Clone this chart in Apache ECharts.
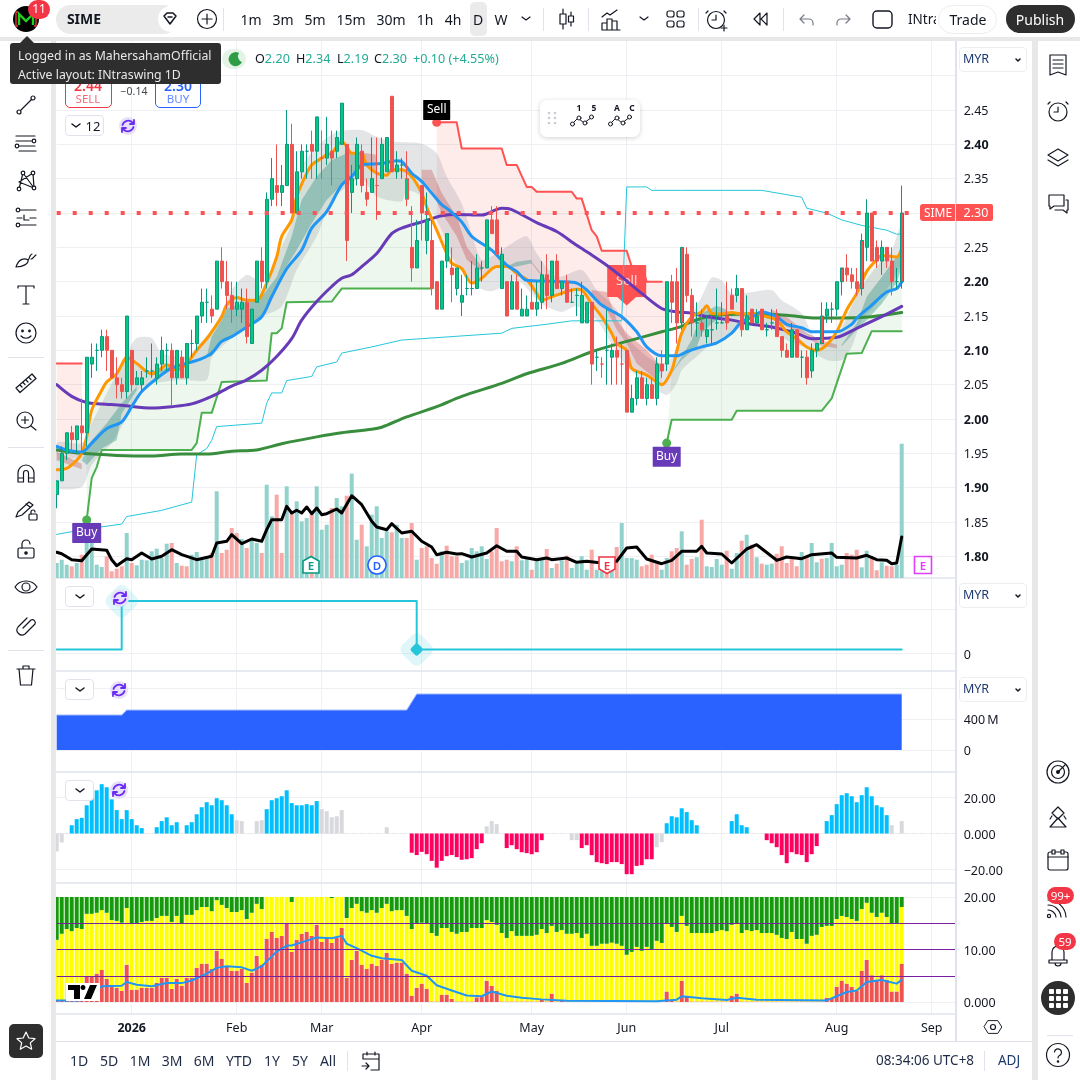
<!DOCTYPE html>
<html><head><meta charset="utf-8">
<script src="https://cdn.jsdelivr.net/npm/echarts@6/dist/echarts.min.js"></script>
<style>
html,body{margin:0;padding:0;background:#fff;width:1080px;height:1080px;overflow:hidden;font-family:"Noto Sans",Roboto,sans-serif;color:#131722}
#c{position:absolute;left:0;top:0;width:1080px;height:1080px}
#ui{position:absolute;left:0;top:0;width:1080px;height:1080px;pointer-events:none}
.a{position:absolute;white-space:nowrap}
.t{position:absolute;white-space:nowrap;transform:translate(-50%,-50%);font-size:14px;line-height:1}
svg{position:absolute;overflow:visible}
</style></head><body><div id="c"></div><div id="ui"></div>
<script>
// ---------- candles (index 0..169) ----------
const opens=[1.89,1.91,1.95,1.98,1.97,1.99,1.98,2.08,2.10,2.10,2.12,2.10,2.06,2.05,2.04,2.10,2.05,2.05,2.07,2.07,2.06,2.08,2.10,2.10,2.06,2.09,2.06,2.11,2.11,2.15,2.17,2.16,2.16,2.23,2.20,2.18,2.16,2.16,2.17,2.11,2.17,2.23,2.20,2.32,2.34,2.33,2.34,2.40,2.30,2.36,2.39,2.40,2.39,2.38,2.38,2.39,2.39,2.40,2.40,2.33,2.35,2.39,2.33,2.33,2.34,2.35,2.36,2.47,2.36,2.37,2.35,2.25,2.22,2.34,2.26,2.26,2.20,2.16,2.23,2.22,2.19,2.17,2.19,2.19,2.19,2.22,2.22,2.29,2.29,2.19,2.20,2.16,2.20,2.15,2.15,2.17,2.16,2.17,2.21,2.18,2.23,2.19,2.20,2.17,2.18,2.14,2.14,2.17,2.09,2.08,2.10,2.09,2.10,2.08,2.10,2.01,2.03,2.06,2.03,2.05,2.03,2.08,2.08,2.20,2.20,2.14,2.24,2.18,2.14,2.14,2.12,2.13,2.14,2.14,2.15,2.18,2.18,2.19,2.13,2.16,2.14,2.16,2.13,2.14,2.15,2.12,2.10,2.09,2.13,2.09,2.09,2.07,2.10,2.11,2.15,2.16,2.16,2.20,2.22,2.21,2.20,2.19,2.25,2.30,2.25,2.23,2.25,2.23,2.20,2.20];
const closes=[1.91,1.95,1.98,1.97,1.99,1.98,2.09,2.09,2.10,2.12,2.10,2.06,2.05,2.04,2.15,2.05,2.06,2.06,2.07,2.07,2.08,2.10,2.10,2.06,2.10,2.06,2.11,2.11,2.15,2.17,2.17,2.15,2.23,2.20,2.18,2.16,2.17,2.17,2.12,2.16,2.23,2.20,2.32,2.35,2.33,2.34,2.40,2.30,2.36,2.39,2.39,2.39,2.44,2.38,2.40,2.38,2.41,2.46,2.26,2.35,2.40,2.34,2.32,2.35,2.34,2.40,2.41,2.36,2.37,2.37,2.32,2.22,2.26,2.30,2.29,2.19,2.16,2.23,2.27,2.21,2.22,2.18,2.19,2.19,2.22,2.22,2.29,2.27,2.24,2.24,2.15,2.20,2.16,2.16,2.16,2.16,2.17,2.21,2.18,2.23,2.19,2.20,2.17,2.17,2.18,2.18,2.17,2.08,2.09,2.08,2.10,2.10,2.09,2.08,2.01,2.03,2.06,2.03,2.05,2.03,2.08,2.07,2.20,2.17,2.14,2.25,2.18,2.14,2.14,2.13,2.13,2.13,2.14,2.14,2.14,2.16,2.19,2.13,2.15,2.14,2.15,2.13,2.13,2.14,2.12,2.10,2.09,2.13,2.09,2.09,2.06,2.10,2.11,2.15,2.16,2.16,2.20,2.22,2.21,2.20,2.19,2.26,2.30,2.23,2.23,2.25,2.23,2.20,2.20,2.30];
const lows=[1.87,1.91,1.94,1.95,1.95,1.95,1.96,2.06,2.07,2.09,2.07,2.06,2.03,2.03,2.03,2.04,2.05,2.04,2.06,2.06,2.05,2.07,2.07,2.02,2.05,2.06,2.05,2.09,2.10,2.14,2.14,2.14,2.16,2.19,2.16,2.14,2.15,2.14,2.11,2.11,2.17,2.19,2.19,2.31,2.31,2.31,2.34,2.30,2.30,2.35,2.35,2.35,2.35,2.35,2.37,2.34,2.38,2.40,2.23,2.30,2.34,2.33,2.31,2.33,2.29,2.35,2.36,2.36,2.35,2.35,2.31,2.20,2.22,2.26,2.24,2.18,2.16,2.16,2.22,2.17,2.18,2.15,2.18,2.18,2.19,2.20,2.22,2.27,2.24,2.19,2.15,2.16,2.16,2.15,2.15,2.16,2.15,2.16,2.16,2.17,2.19,2.18,2.17,2.17,2.15,2.14,2.14,2.05,2.07,2.06,2.05,2.05,2.05,2.05,2.01,2.01,2.02,2.03,2.02,2.03,2.02,2.06,2.07,2.14,2.11,2.13,2.17,2.12,2.12,2.12,2.11,2.11,2.13,2.14,2.13,2.16,2.17,2.12,2.13,2.14,2.14,2.13,2.12,2.13,2.12,2.09,2.09,2.09,2.09,2.06,2.05,2.06,2.09,2.11,2.14,2.14,2.15,2.18,2.20,2.19,2.18,2.18,2.23,2.23,2.22,2.21,2.22,2.18,2.19,2.19];
const highs=[1.91,1.96,1.98,1.99,1.99,2.03,2.09,2.11,2.11,2.13,2.13,2.10,2.09,2.06,2.15,2.10,2.07,2.07,2.09,2.11,2.09,2.12,2.11,2.11,2.10,2.10,2.11,2.13,2.15,2.19,2.19,2.18,2.23,2.25,2.23,2.20,2.20,2.19,2.19,2.16,2.23,2.25,2.33,2.38,2.40,2.37,2.45,2.43,2.39,2.40,2.40,2.42,2.44,2.42,2.44,2.42,2.42,2.46,2.40,2.37,2.41,2.40,2.35,2.41,2.41,2.41,2.41,2.47,2.39,2.38,2.39,2.31,2.29,2.34,2.33,2.29,2.20,2.23,2.27,2.25,2.22,2.21,2.21,2.23,2.24,2.23,2.29,2.31,2.31,2.25,2.20,2.21,2.21,2.19,2.18,2.20,2.20,2.23,2.24,2.23,2.24,2.20,2.21,2.19,2.19,2.20,2.17,2.17,2.10,2.09,2.16,2.11,2.12,2.11,2.10,2.05,2.07,2.07,2.06,2.06,2.09,2.10,2.20,2.21,2.22,2.25,2.25,2.19,2.17,2.16,2.15,2.15,2.19,2.17,2.20,2.19,2.21,2.19,2.18,2.16,2.16,2.16,2.14,2.16,2.16,2.12,2.11,2.14,2.13,2.10,2.10,2.11,2.11,2.17,2.17,2.17,2.20,2.22,2.24,2.22,2.22,2.27,2.32,2.30,2.26,2.26,2.25,2.25,2.22,2.34];
const redFillUp=[125,153,157,161,169];
const greenFillDown=[70];
// ---------- moving averages etc: [bar index, price] ----------
const orangeLine=[[0,1.926],[2,1.928],[4,1.94],[5,1.95],[6,1.974],[7,2.013],[9,2.042],[10,2.054],[12,2.066],[13,2.079],[14,2.09],[16,2.081],[18,2.069],[19,2.066],[21,2.074],[22,2.079],[24,2.071],[26,2.081],[28,2.10],[30,2.117],[31,2.127],[33,2.149],[34,2.166],[36,2.177],[38,2.173],[40,2.173],[42,2.198],[44,2.236],[45,2.266],[47,2.29],[48,2.324],[50,2.358],[51,2.37],[53,2.38],[54,2.385],[55,2.387],[57,2.404],[58,2.397],[59,2.387],[61,2.387],[62,2.37],[64,2.358],[66,2.355],[67,2.363],[69,2.363],[71,2.353],[73,2.329],[74,2.309],[76,2.275],[78,2.241],[79,2.227],[81,2.219],[83,2.198],[85,2.205],[88,2.222],[90,2.222],[92,2.212],[94,2.203],[96,2.183],[97,2.173],[99,2.178],[101,2.183],[104,2.189],[105,2.188],[107,2.168],[109,2.149],[111,2.125],[112,2.11],[114,2.10],[115,2.074],[118,2.064],[120,2.054],[121,2.05],[123,2.071],[124,2.098],[125,2.125],[127,2.149],[129,2.156],[130,2.165],[131,2.154],[133,2.153],[135,2.155],[137,2.153],[139,2.154],[142,2.149],[144,2.144],[146,2.127],[148,2.117],[150,2.105],[152,2.10],[154,2.108],[156,2.127],[158,2.159],[160,2.183],[162,2.215],[164,2.232],[165,2.238],[168,2.236],[169,2.249]];
const blueLine=[[0,1.96],[2,1.955],[5,1.952],[7,1.965],[10,1.986],[13,1.996],[15,2.018],[17,2.04],[20,2.059],[23,2.074],[26,2.081],[29,2.088],[31,2.096],[33,2.113],[35,2.12],[38,2.134],[41,2.149],[43,2.178],[46,2.219],[49,2.246],[51,2.278],[54,2.302],[57,2.341],[59,2.353],[61,2.37],[62,2.371],[65,2.372],[68,2.376],[69,2.375],[71,2.358],[73,2.346],[75,2.329],[77,2.312],[78,2.307],[81,2.287],[83,2.266],[87,2.246],[90,2.224],[92,2.215],[94,2.202],[97,2.201],[101,2.20],[104,2.198],[106,2.188],[109,2.166],[113,2.149],[116,2.127],[118,2.105],[121,2.092],[124,2.092],[126,2.098],[129,2.105],[132,2.111],[135,2.125],[137,2.142],[139,2.148],[141,2.156],[144,2.149],[146,2.138],[149,2.133],[151,2.127],[156,2.127],[159,2.138],[160,2.147],[163,2.166],[166,2.185],[168,2.19],[169,2.20]];
const purpleLine=[[0,2.05],[3,2.033],[6,2.024],[9,2.022],[13,2.02],[19,2.016],[23,2.018],[27,2.022],[31,2.033],[35,2.048],[38,2.057],[41,2.071],[44,2.091],[47,2.117],[49,2.144],[52,2.171],[55,2.193],[57,2.205],[59,2.21],[61,2.222],[64,2.241],[67,2.27],[69,2.278],[73,2.287],[77,2.296],[80,2.298],[85,2.297],[89,2.307],[91,2.305],[96,2.286],[100,2.273],[104,2.253],[107,2.239],[110,2.224],[113,2.207],[117,2.183],[121,2.161],[124,2.156],[127,2.154],[130,2.149],[135,2.144],[139,2.138],[143,2.134],[148,2.125],[151,2.117],[156,2.119],[160,2.132],[165,2.149],[169,2.164]];
const darkGreenLine=[[0,1.955],[5,1.95],[12,1.947],[19,1.946],[25,1.949],[30,1.949],[35,1.953],[40,1.955],[45,1.964],[52,1.974],[57,1.98],[63,1.985],[65,1.988],[70,2.003],[76,2.018],[81,2.033],[89,2.052],[94,2.066],[101,2.081],[107,2.098],[114,2.113],[121,2.127],[125,2.135],[126,2.139],[130,2.149],[133,2.152],[140,2.153],[146,2.151],[152,2.147],[157,2.147],[163,2.149],[169,2.155]];
const cyanLine=[[0,1.832],[7,1.841],[13,1.847],[14,1.858],[21,1.867],[27,1.879],[28,1.948],[30,1.957],[31,1.969],[32,1.989],[41,1.994],[42,2.023],[43,2.038],[45,2.038],[46,2.056],[51,2.062],[52,2.076],[56,2.083],[57,2.096],[63,2.105],[69,2.115],[73,2.117],[89,2.125],[91,2.132],[98,2.138],[103,2.143],[113,2.143],[114,2.338],[118,2.338],[119,2.333],[125,2.333],[141,2.333],[149,2.323],[150,2.307],[154,2.30],[157,2.29],[161,2.282],[166,2.275],[168,2.269],[169,2.27]];
const stopLongA=[[6,1.853],[7,1.914],[8,1.93],[9,1.955],[27,1.955],[28,1.965],[29,2.009],[31,2.009],[33,2.054],[42,2.056],[43,2.125],[44,2.125],[45,2.132],[46,2.17],[55,2.171],[57,2.19],[75,2.19]];
const stopLongB=[[122,1.965],[123,1.999],[135,1.999],[136,2.012],[153,2.012],[155,2.03],[156,2.052],[158,2.095],[161,2.096],[163,2.128],[169,2.128]];
const stopShortA=[[0,2.081],[5,2.081]];
const stopShortB=[[76,2.432],[80,2.432],[81,2.394],[89,2.394],[90,2.37],[92,2.37],[94,2.338],[95,2.338],[96,2.331],[103,2.331],[104,2.321],[105,2.321],[107,2.275],[108,2.266],[109,2.245],[114,2.245],[115,2.222],[117,2.222],[118,2.20],[121,2.20]];
// ---------- shaded bands: upper / lower edges ----------
const cloudTop=[[0,1.965],[5,1.965],[7,1.994],[10,2.037],[12,2.067],[14,2.096],[16,2.118],[19,2.118],[21,2.096],[26,2.091],[28,2.105],[31,2.13],[33,2.154],[35,2.188],[38,2.21],[40,2.202],[41,2.188],[44,2.236],[47,2.285],[49,2.367],[52,2.397],[56,2.418],[61,2.421],[64,2.411],[67,2.404],[73,2.401],[76,2.387],[78,2.353],[81,2.314],[83,2.27],[85,2.232],[88,2.241],[90,2.251],[94,2.266],[96,2.241],[100,2.207],[105,2.217],[108,2.188],[112,2.159],[114,2.12],[118,2.091],[121,2.081],[123,2.09],[125,2.125],[129,2.178],[131,2.206],[133,2.202],[135,2.183],[139,2.185],[143,2.188],[145,2.173],[149,2.154],[151,2.125],[153,2.11],[156,2.12],[159,2.164],[161,2.193],[164,2.222],[167,2.246],[169,2.285]];
const cloudBottom=[[0,1.901],[5,1.901],[7,1.933],[11,1.965],[13,1.989],[15,2.018],[17,2.047],[21,2.054],[25,2.057],[30,2.057],[31,2.091],[33,2.105],[37,2.13],[41,2.149],[45,2.164],[48,2.217],[52,2.266],[55,2.319],[58,2.338],[61,2.35],[64,2.324],[69,2.317],[70,2.333],[73,2.324],[77,2.275],[79,2.236],[84,2.193],[87,2.186],[92,2.202],[97,2.168],[101,2.156],[104,2.164],[108,2.144],[111,2.11],[114,2.076],[118,2.052],[122,2.035],[124,2.052],[125,2.071],[128,2.091],[131,2.11],[134,2.122],[138,2.137],[143,2.132],[146,2.115],[150,2.103],[154,2.086],[157,2.086],[159,2.105],[161,2.144],[164,2.168],[169,2.227]];
const tealBands=[
 [[[5,1.94],[7,1.969],[10,1.994],[13,2.023],[16,2.047]],[[6,1.933],[9,1.957],[12,1.969],[13,2.008],[16,2.042]]],
 [[[19,2.064],[22,2.075],[26,2.083]],[[19,2.063],[22,2.069],[26,2.08]]],
 [[[30,2.091],[31,2.12],[33,2.144],[34,2.161],[37,2.168],[41,2.178],[44,2.207],[47,2.266],[49,2.319],[52,2.353],[55,2.377],[58,2.387],[61,2.387]],[[31,2.091],[33,2.113],[37,2.132],[41,2.149],[43,2.178],[45,2.212],[48,2.246],[51,2.285],[54,2.319],[57,2.341],[59,2.353],[61,2.37]]],
 [[[90,2.222],[92,2.229],[95,2.232]],[[90,2.22],[92,2.222],[95,2.227]]],
 [[[123,2.067],[125,2.091],[127,2.115],[129,2.154],[132,2.165],[134,2.159]],[[123,2.067],[125,2.086],[128,2.105],[129,2.125],[131,2.139],[134,2.154]]],
 [[[157,2.108],[160,2.139],[162,2.178],[165,2.207],[167,2.227],[169,2.246]],[[157,2.106],[160,2.13],[162,2.144],[165,2.168],[168,2.198],[169,2.222]]]
];
const redBands=[
 [[[0,1.952],[5,1.935]],[[0,1.94],[5,1.927]]],
 [[[61,2.388],[64,2.385]],[[61,2.37],[64,2.36]]],
 [[[73,2.363],[75,2.363],[77,2.329],[80,2.295],[82,2.251],[85,2.222]],[[73,2.35],[75,2.333],[77,2.30],[80,2.266],[82,2.232],[85,2.215]]],
 [[[95,2.229],[98,2.202]],[[95,2.227],[98,2.198]]],
 [[[107,2.188],[110,2.185],[112,2.144],[114,2.125],[118,2.10],[121,2.076]],[[107,2.178],[110,2.159],[112,2.13],[114,2.11],[116,2.081],[120,2.057]]],
 [[[143,2.159],[146,2.149],[150,2.125],[153,2.115],[156,2.108]],[[143,2.149],[146,2.134],[150,2.122],[152,2.108],[156,2.103]]]
];
const sellFillLeftBottom=[[0,1.94],[5,1.945]];
// ---------- volume ----------
const volumes=[15,18.3,13.3,11.7,15,23.3,41.7,50,13.3,11,21.7,6.7,9.3,11.7,45,15,12.7,18.3,17.7,26.7,29.3,20,34.3,35,15,12.3,11.7,23.3,26,20,20,25,86.7,25,28.3,50,45,39,30,38.3,35,25,93.3,61.7,83.3,25,91.7,65,76.7,56.7,60,65,91.7,48.3,53.3,70,80,71.7,82.3,104.3,38.3,53.3,31.7,63.3,71.7,40,46.7,45.7,53.3,40,40,55,18.3,30,31.7,20,14.3,26.7,32.3,21.7,21.7,15,17.7,30,26.7,31.7,19,26.7,50,16.7,18.3,16.7,31.7,17.7,20,8.3,17.7,19,29,10,14.3,17.7,22.3,10,14.3,21.7,8.3,28.3,8.3,6.7,16.7,15,31,55,20,20,18.3,11.7,13.3,23.3,15,8.3,20,26.7,30,46.7,13.3,19,20.7,58.3,11.7,11,19,13.3,27.3,9.3,25,37.3,43.3,33.3,20.7,14.3,13.3,14.3,24.3,31.7,15,20,11.7,26,21,35,15.7,19.3,20,35,11.7,13.3,25,23.3,28.3,10.7,27.3,21.7,7.7,15.7,12.3,11.7,13.3,134.3];
const volumeDown=[3,5,10,11,12,13,15,23,25,26,31,33,34,35,36,38,41,44,45,47,51,55,58,61,67,70,71,73,74,75,76,78,79,80,87,88,89,90,92,95,98,100,102,107,110,112,117,118,119,120,123,124,126,127,129,134,137,139,141,144,145,146,147,148,150,153,158,159,160,163,164,166,167];
const volumeAverage=[[0,25.7],[1,24.3],[3,18.3],[5,17.3],[7,29],[10,27.7],[11,18.3],[12,12.3],[14,19.3],[15,18.3],[17,25],[19,19],[21,21.7],[23,28.3],[25,23.3],[28,18.3],[31,21.7],[32,35],[34,36.7],[35,43.3],[37,34.3],[39,39],[41,36.7],[42,48.3],[43,58.3],[45,58.3],[46,71.7],[47,65],[48,67.7],[49,65],[50,71],[51,64.3],[52,70],[53,63.3],[54,64.3],[56,69],[57,65],[59,82.3],[61,73.3],[63,56.7],[64,51],[66,48.3],[67,54.3],[69,45],[71,46.7],[73,36.7],[75,31],[76,23.3],[78,25.7],[80,24],[81,24.3],[83,21],[86,25],[88,32.3],[90,26.7],[92,26.7],[93,21],[96,18.3],[98,20],[99,18.3],[102,20],[104,15.7],[106,16.7],[109,15],[112,16.7],[114,30],[116,31],[118,19],[121,14.3],[123,17.7],[125,26.7],[128,26.7],[129,31.7],[130,25],[133,24],[135,15],[138,29],[140,33.3],[144,17.7],[146,21],[149,19.3],[151,23.3],[155,25],[156,20.7],[160,20],[162,22.7],[164,18.3],[166,17.7],[167,14.3],[168,15],[169,41]];
// ---------- pane 2 / 3 ----------
const levelLine=[[0,0.08],[13,0.08],[13,1.18],[72,1.18],[72,0.08],[169,0.08]];
const levelMarks=[[13,1.18],[72,0.08]];
const blueArea=[[0,452e6],[13,452e6],[14,516e6],[70,516e6],[72,723e6],[169,723e6]];
// ---------- pane 4 histogram ----------
const histogram=[-10,-5,0,4.6,8,8.7,15.7,20.7,24,27.4,25.7,19,13,8,13,8,4.6,3,0,0,3.5,6.9,9,4.6,6.3,0,4.6,6.3,10.7,14.6,17.4,15.7,19.6,18.5,15.7,10.7,7.4,6.9,0,0,6.9,7.4,13.5,18.5,19.6,20.7,24,16.9,15.7,15.7,16.3,15.7,18,13.5,12.4,9,9.6,13,0,0,0,0,0,0,0,0,3.5,0,0,0,0,-10.7,-12,-10.2,-11.5,-15.2,-19,-15.2,-12.6,-12,-13.1,-14.6,-14.3,-13.7,-8.7,-5.4,4,6.9,5.2,0,-8.1,-6.5,-8.7,-10.4,-10.9,-11.5,-10.4,-3.7,0,0,0,0,0,-3.7,-3.7,-8.1,-6.5,-12,-15.9,-16.5,-17,-15.9,-15.9,-17,-22.6,-22.6,-18,-17.6,-14.3,-14.3,-7.6,-4.8,5.7,9.6,9,14,11.9,7.4,4.6,0,0,0,0,0,0,6.9,10.7,4.6,3.5,0,0,0,-3.7,-5.4,-7.6,-12,-16.5,-10.4,-11.5,-12,-15.9,-11.5,-7,0,6.9,10.2,16.3,21.3,22.4,20.7,17.4,21.3,25.7,20.7,15.7,14.6,10.2,4.6,0,6.9];
const histogramGrey=[0,1,36,37,40,41,53,54,55,56,57,66,86,87,88,103,104,120,121,167,169];
// ---------- pane 5 stacked flow ----------
const redTop=[.2,.2,.2,.2,.2,.2,4.8,4.8,5.4,6.1,4.4,3.1,2.7,2.15,7.1,2.35,2.35,2.7,2.7,2.7,3.65,4.6,4.6,2.5,4.4,3.1,4.6,4.6,6.5,7.3,7.3,6.3,9.75,8.2,6.9,5.95,5.95,6.3,3.65,5.6,8.8,7.1,12,13.35,12.2,12.6,15,9.55,11.85,13,13.35,12.6,14.7,11.45,12,11.25,12.2,14.1,4.6,8.05,9.75,7.1,6.3,7.3,6.9,8.05,9.35,7.3,7.5,7.5,5.4,1.2,2.7,3.5,2.5,.1,.1,1.4,1.4,.6,.1,.1,.1,.1,.9,1.1,4.05,3.1,2.1,.1,.1,
 .1,.1,.1,.1,.1,.1,.4,.1,1.6,.1,.4,
 .1,.1,.1,.1,.1,.1,.1,.1,.1,.1,.1,.1,.1,.1,.1,.1,.1,.1,.1,.1,
 2,.4,.1,4.05,1.2,.1,.1,.1,.1,.1,.1,.1,.1,1.2,1.6,
 .1,.1,.1,.1,.1,.1,.1,.1,.1,.1,.1,.1,.1,.1,.1,.1,.1,
 .8,.8,2.9,4.05,3.5,2.9,2.1,5.95,8.05,5.1,4.25,5.1,4.25,2,2,7.3];
const yellowTop=[11.85,13,13.9,13.5,14.1,13.9,16.8,16.8,17,17.5,17,15.6,15.45,15.1,17.9,15,15,15.25,15.45,15.45,16,16.4,16.4,15.25,16.4,15,16.6,16.6,17.5,18.1,18.1,17.3,19.4,18.5,17.9,17.15,17.15,17.5,15.8,17,18.7,17.7,20,20,20,20,20,19.05,20,20,20,20,20,20,20,19.8,20,20,16,17.9,18.7,17.3,17,17.5,17,17.9,18.7,17.3,17.5,17.5,16.4,13.9,15,15.1,15,13.15,12.6,14.1,14.1,13.35,13,13.35,13.35,14.1,14.1,14.1,15.6,15.25,14.7,13.15,12.2,13.5,12.6,12.6,12.6,12.6,12.8,13.9,13.15,14.5,13.35,13.7,13,13,13.15,12.2,13,10.7,10.7,11.1,11.1,11.3,11.1,10.7,9,9.55,10.5,9.75,10.5,10.1,11.65,11.25,14.9,14.3,13.35,16.4,14.5,13.15,13.15,13.15,13.15,13.15,13.5,13.7,13.5,14.7,14.9,13.15,13.7,13.5,13.7,13.15,13.15,13.15,12.8,12.2,12,13.35,12,12,11.1,12.6,12.8,14.3,14.5,14.5,15.8,16.4,16.2,15.8,15.45,17.7,18.9,17,16.2,17,16.2,15,15,18.1];
const flowFull=20;
const flowAverage=[[0,.3],[5,.3],[9,3],[13,3.1],[14,3.8],[16,3.3],[19,3],[22,3.6],[25,3.6],[27,4.1],[30,5.4],[32,6.5],[34,6.8],[37,6.6],[39,5.95],[41,6.8],[44,9.6],[46,10.75],[47,10.75],[50,11.7],[52,12.3],[55,12.15],[57,12.6],[58,11.1],[60,10.25],[63,8.8],[65,8.35],[69,8],[71,5.95],[74,5],[76,3.2],[79,2.2],[82,1.25],[85,1.1],[87,2],[90,1.2],[93,.8],[97,.5],[102,.25],[120,.15],[124,.45],[125,1.1],[129,.7],[134,.4],[136,.8],[140,.45],[154,.3],[156,1.1],[158,1.9],[160,2.2],[162,3.8],[165,4.2],[168,3.5],[169,4.25]];
const flowLevels=[15,10,5];
// ---------- ticks ----------
const monthLabels={15:'2026',36:'Feb',53:'Mar',73:'Apr',95:'May',114:'Jun',133:'Jul',156:'Aug',175:'Sep'};
const priceTicks=[1.80,1.85,1.90,1.95,2.00,2.05,2.10,2.15,2.20,2.25,2.30,2.35,2.40,2.45];
const priceGrid=[1.80,1.85,1.90,1.95,2.00,2.05,2.10,2.15,2.20,2.25,2.30,2.35,2.40,2.45,2.50];
const lastPrice=2.30;
const barCount=181;
const cats=Array.from({length:barCount},(_,i)=>String(i));

const W=900,L=56.7,FONT='"Noto Sans",Roboto,sans-serif';
const gridLine={show:true,lineStyle:{color:'#eef0f4',width:1}};
const grids=[[41,537],[578,93],[671,101],[772,111],[883,131]].map(([top,height])=>({left:L,width:W,top,height,containLabel:false}));
const xAxes=grids.map((g,i)=>({type:'category',gridIndex:i,data:cats,boundaryGap:false,
  axisLine:{show:true,onZero:false,lineStyle:{color:'#e0e3eb',width:1.5}},axisTick:{show:false},
  splitLine:{show:true,interval:(k)=>monthLabels[k]!==undefined,lineStyle:{color:'#eef0f4',width:1}},
  axisLabel:i===4?{show:true,interval:(k)=>monthLabels[k]!==undefined,margin:8,fontFamily:FONT,fontSize:12.5,color:'#131722',
     formatter:(v,k)=>{const s=monthLabels[+v];return s==='2026'?'{b|'+s+'}':s;},rich:{b:{fontWeight:'bold',fontFamily:FONT,fontSize:12.5,color:'#131722'}}}:{show:false}}));
function yAx(gi,min,max,gridVals,labelVals,fmt,pad){return {type:'value',gridIndex:gi,position:'right',min,max,scale:true,
  axisLine:{show:false},axisTick:{show:false,customValues:gridVals},splitLine:gridLine,
  axisLabel:{show:true,customValues:labelVals,margin:7,align:'left',padding:[pad,0,0,0],fontFamily:FONT,fontSize:12.5,color:'#131722',formatter:fmt,
    rich:{b:{fontWeight:'bold',fontFamily:FONT,fontSize:12.5,color:'#131722'}}}};}
const yAxes=[
 yAx(0,1.7685,2.5505,priceGrid,priceTicks,v=>{const s=v.toFixed(2);return Math.round(v*100)%10===0?'{b|'+s+'}':s;},2),
 {type:'value',gridIndex:0,min:0,max:537,show:false,splitLine:{show:false}},
 yAx(1,-0.409,1.7045,[0,1],[0],v=>'0',4),
 yAx(2,-283.9e6,1019.35e6,[0,4e8,8e8],[0,4e8],v=>v===0?'0':'400\u202fM',3),
 yAx(3,-27.5,34.17,[-20,0,20],[-20,0,20],v=>v===0?'0.000':(v<0?'\u221220.00':'20.00'),3),
 yAx(4,-2.286,22.67,[0,10,20],[0,10,20],v=>v===0?'0.000':v.toFixed(2),3)
];
function band(top,bottom,color,z,smooth){return {type:'custom',xAxisIndex:0,yAxisIndex:0,z,silent:true,data:[[0]],
  renderItem:(p,api)=>({type:'polygon',shape:{smooth:smooth||0,points:top.concat(bottom.slice().reverse()).map(d=>api.coord(d))},style:{fill:color}})};}
function line(data,color,width,z,smooth,xi,yi){return {type:'line',data,xAxisIndex:xi||0,yAxisIndex:yi||0,z,symbol:'none',smooth:smooth||false,silent:true,
  lineStyle:{color,width,cap:'round',join:'round'},animation:false};}
const between=(arr,a,b)=>arr.filter(d=>d[0]>=a&&d[0]<=b);
function tag(x,p,text,bg,size,z,extra){return Object.assign({type:'scatter',xAxisIndex:0,yAxisIndex:0,z,silent:true,symbol:'path://M2 0H98Q100 0 100 4V96Q100 100 98 100H2Q0 100 0 96V4Q0 0 2 0Z',symbolKeepAspect:false,symbolSize:size,
  itemStyle:{color:bg,opacity:1},data:[[x,p]],label:{show:true,position:'inside',formatter:text,color:'#fff',fontFamily:FONT,fontSize:12}},extra||{});}

const candleData=opens.map((o,i)=>{
  const item={value:[o,closes[i],lows[i],highs[i]]};
  if(redFillUp.includes(i)) item.itemStyle={color:'#ef5350',borderColor:'#089981'};
  if(greenFillDown.includes(i)) item.itemStyle={color0:'#06c77f',borderColor0:'#ef5350'};
  return item;});
const series=[
 band(stopShortA,sellFillLeftBottom,'rgba(244,67,54,.10)',1),
 band(between(orangeLine,6,75),stopLongA,'rgba(76,175,80,.10)',1),
 band(stopShortB.concat([[122,2.20]]),between(orangeLine,76,122),'rgba(244,67,54,.10)',1),
 band(between(orangeLine,122,169),stopLongB,'rgba(76,175,80,.10)',1),
 band(cloudTop,cloudBottom,'rgba(120,123,134,.20)',1.2,0.25),
 ...tealBands.map(b=>band(b[0],b[1],'rgba(0,121,107,.30)',1.3)),
 ...redBands.map(b=>band(b[0],b[1],'rgba(183,28,28,.25)',1.3)),
 tag(114,2.201,'Sell','#ff5252',[39,32],1.4,{label:{show:true,position:'inside',formatter:'Sell',color:'#ffd9d9',fontFamily:FONT,fontSize:13}}),
 {type:'scatter',xAxisIndex:0,yAxisIndex:0,z:1.4,silent:true,symbol:'triangle',symbolRotate:180,symbolSize:[20,9],itemStyle:{color:'#ff5252',opacity:1},data:[[114,2.172]]},
 {type:'bar',xAxisIndex:0,yAxisIndex:1,barWidth:4,z:1.5,silent:true,
   data:volumes.map((v,i)=>({value:v,itemStyle:{color:volumeDown.includes(i)?'#f7a9a7':'#92d2cc'}}))},
 line(cyanLine,'#26c6da',1,2),
 line(stopShortA,'#ff5252',2,2),
 line(stopShortB,'#ff5252',2,2),
 line(stopLongA,'#4caf50',2,2),
 line(stopLongB,'#4caf50',2,2),
 line(darkGreenLine,'#388e3c',3,3,0.3),
 line(purpleLine,'#673ab7',3,3,0.3),
 line(orangeLine,'#ff9800',3,3,0.3),
 line(blueLine,'#2196f3',3,3.1,0.3),
 line(volumeAverage,'#000',3,3.2,false,0,1),
 {type:'candlestick',xAxisIndex:0,yAxisIndex:0,z:4,silent:true,barWidth:3.4,data:candleData,
   itemStyle:{color:'#06c77f',color0:'#ef5350',borderColor:'#089981',borderColor0:'#ef5350',borderWidth:1},
   markLine:{silent:true,symbol:'none',label:{show:false},animation:false,lineStyle:{color:'#ff5252',width:4,type:[4,12]},data:[{yAxis:lastPrice}]}},
 {type:'scatter',xAxisIndex:0,yAxisIndex:0,z:5,silent:true,symbolSize:9,itemStyle:{color:'#ff5252',opacity:1},data:[[76,2.432]]},
 {type:'scatter',xAxisIndex:0,yAxisIndex:0,z:5,silent:true,symbolSize:9,itemStyle:{color:'#4caf50',opacity:1},data:[[6,1.853],[122,1.965]]},
 tag(76,2.45,'Sell','#000',[27,20],6),
 tag(6,1.834,'Buy','#673ab7',[29,20],6),
 tag(122,1.945,'Buy','#673ab7',[28,20],6),
 // pane 2
 line(levelLine,'#26c6da',2,3,false,1,2),
 {type:'scatter',xAxisIndex:1,yAxisIndex:2,z:2,silent:true,symbol:'roundRect',symbolRotate:45,symbolSize:27,itemStyle:{color:'rgba(38,198,218,.14)',opacity:1},data:levelMarks},
 {type:'scatter',xAxisIndex:1,yAxisIndex:2,z:4,silent:true,symbol:'roundRect',symbolRotate:45,symbolSize:10,itemStyle:{color:'#26c6da',opacity:1},data:levelMarks},
 // pane 3
 Object.assign(line(blueArea,'#a9bdfb',1,2,false,2,3),{areaStyle:{color:'#2962ff',opacity:1}}),
 // pane 4
 {type:'bar',xAxisIndex:3,yAxisIndex:4,barWidth:4,z:2,silent:true,
   data:histogram.map((v,i)=>({value:v,itemStyle:{color:histogramGrey.includes(i)?'#d8d9dd':(v>0?'#00bfff':'#ff0061')}})),
   markLine:{silent:true,symbol:'none',label:{show:false},animation:false,z:1,lineStyle:{color:'#e8e8ec',width:1,type:[4,4]},data:[{yAxis:0}]}},
 // pane 5
 {type:'bar',xAxisIndex:4,yAxisIndex:5,barWidth:4,stack:'flow',z:2,silent:true,itemStyle:{color:'#ef5350'},data:redTop},
 {type:'bar',xAxisIndex:4,yAxisIndex:5,barWidth:4,stack:'flow',z:2,silent:true,itemStyle:{color:'#ffff00'},data:yellowTop.map((v,i)=>+(v-redTop[i]).toFixed(2))},
 {type:'bar',xAxisIndex:4,yAxisIndex:5,barWidth:4,stack:'flow',z:2,silent:true,itemStyle:{color:'#159a0b'},data:yellowTop.map(v=>+(flowFull-v).toFixed(2)),
   markLine:{silent:true,symbol:'none',label:{show:false},animation:false,lineStyle:{color:'#7b1fa2',width:1,type:'solid'},data:flowLevels.map(v=>({yAxis:v}))}},
 line(flowAverage,'#2196f3',2,4,false,4,5)
];
const chart=echarts.init(document.getElementById('c'),null,{renderer:'canvas'});
chart.setOption({animation:false,backgroundColor:'#fff',grid:grids,xAxis:xAxes,yAxis:yAxes,series,tooltip:{show:false}});

// ---------- interface chrome (text stays text) ----------
const ui=document.getElementById('ui');let h='';
const rect=(x,y,w,hh,s)=>{h+=`<div class="a" style="left:${x}px;top:${y}px;width:${w}px;height:${hh}px;${s||''}"></div>`;};
const txt=(x,y,s,st)=>{h+=`<div class="t" style="left:${x}px;top:${y}px;${st||''}">${s}</div>`;};
const ico=(x,y,inner,st)=>{h+=`<svg style="left:${x-12}px;top:${y-12}px" width="24" height="24" viewBox="0 0 24 24" fill="none" stroke="${st||'#131722'}" stroke-width="1.2" stroke-linecap="round" stroke-linejoin="round">${inner}</svg>`;};
rect(0,0,1080,37,'background:#fff');rect(0,37,1080,4,'background:#e8e8e8');
rect(0,41,51,1039,'background:#fff');rect(51,41,5,1039,'background:#e8e8e8');
rect(1032,41,6,1039,'background:#e8e8e8');rect(1038,41,42,1039,'background:#fff');
rect(955,41,1.5,1000,'background:#e0e3eb');
rect(956.5,41,75.5,3,'background:#fff');
rect(56,1041,976,39,'background:#fff;border-top:1.5px solid #e0e3eb;box-sizing:border-box');
// top bar
h+=`<svg style="left:13px;top:6px" width="26" height="26" viewBox="0 0 26 26"><circle cx="13" cy="13" r="13" fill="#000"/><path d="M6 19V8l7 7 7-7v11" stroke="#1fd11f" stroke-width="2.4" fill="none"/><path d="M5 6H3v14h2M21 6h2v14h-2" stroke="#e33" stroke-width="1.4" fill="none"/></svg>`;
rect(28,0,22,19,'background:#f23645;border-radius:10px');txt(39,9,'11','color:#fff;font-size:12px');
rect(56,5,122,29,'background:#ebebeb;border-radius:15px');txt(84,19,'SIME','font-weight:700;font-size:14px');
rect(158,6,26,26,'background:#fff;border-radius:13px');
ico(170,19,'<path d="M6 9l3-3h6l3 3-6 8z" stroke-width="1.5"/><path d="M10 10h4" stroke-width="1.5"/>');
ico(207,19,'<circle cx="12" cy="12" r="9.5"/><path d="M12 7v10M7 12h10"/>');
rect(223,8,1,23,'background:#e0e3eb');
rect(470,2,17,34,'background:#ebebeb;border-radius:5px');
[['1m',251],['3m',283],['5m',315],['15m',351],['30m',391],['1h',425],['4h',453],['D',478],['W',501]].forEach(a=>txt(a[1],20,a[0],'font-size:14px'));
ico(526,19,'<path d="M8 10l4 3 4-3"/>');
rect(543,8,1,23,'background:#e0e3eb');
ico(567,19,'<path d="M8 2v20M16 5v14"/><rect x="5" y="7" width="6" height="10" fill="#fff"/><rect x="13.5" y="9" width="5" height="6" fill="#fff"/>');
rect(588,8,1,23,'background:#e0e3eb');
ico(611,20,'<path d="M3 22V15h5v7M8 22V11h5v11M13 22V13h5v9M3 22h18M3 9l5-4 3 2 7-5"/>');
ico(644,19,'<path d="M8 10l4 3 4-3"/>');
ico(675,19,'<rect x="4" y="4" width="7" height="6" rx="2"/><rect x="14" y="4" width="7" height="6" rx="2"/><rect x="4" y="14" width="7" height="6" rx="2"/><rect x="14" y="14" width="7" height="6" rx="2"/>');
rect(698,8,1,23,'background:#e0e3eb');
ico(717,20,'<circle cx="11" cy="12" r="8.5"/><path d="M11 7v5H7M3 3L1 5M19 3l2 2M19 17v6M16 20h6"/>');
ico(761,19,'<path d="M11 6l-6 6 6 6zM18 6l-6 6 6 6z"/>');
rect(783,8,1,23,'background:#e0e3eb');
ico(806,20,'<path d="M10 7l-4 4 4 4M6 11h9a4 4 0 0 1 4 4v2"/>','#787b86');
ico(844,20,'<path d="M14 7l4 4-4 4M18 11H9a4 4 0 0 0-4 4v2"/>','#787b86');
ico(883,20,'<rect x="2" y="3" width="19" height="17" rx="4" stroke-width="1.4"/>');
txt(922,19.5,'INtra','font-size:13.5px;width:28px;overflow:hidden');
rect(938,5,59,29,'background:#fff;border:1px solid #eceded;border-radius:15px;box-sizing:border-box');txt(968,19.5,'Trade','font-size:14px');
rect(1006,5,69,28,'background:#2e2e2e;border-radius:15px');txt(1040,19.5,'Publish','font-size:14px;color:#fff');
// OHLC
rect(222,49,24,20,'background:#e3f3e6;border-radius:10px');
ico(236,59,'<path d="M15 6a7 7 0 1 0 3 9 6 6 0 0 1-3-9z" fill="#2e9d45" stroke="none"/>');
[[255,'O','2.20'],[296,'H','2.34'],[337,'L','2.19'],[374,'C','2.30'],[413,'','+0.10 (+4.55%)']].forEach(a=>{
  h+=`<div class="a" style="left:${a[0]}px;top:50px;font-size:12.6px;color:#22ab94;line-height:18px"><span style="color:#131722">${a[1]}</span>${a[2]}</div>`;});
// buy/sell widget
rect(65,64,47,44,'border:1px solid #f23645;border-radius:5px;box-sizing:border-box;background:#fff');
rect(155,64,46,44,'border:1px solid #2962ff;border-radius:5px;box-sizing:border-box;background:#fff');
txt(88,86,'2.44','color:#f23645;font-size:14px;font-weight:600');txt(88,99,'SELL','color:#f23645;font-size:11.5px;opacity:.75');
txt(178,86,'2.30','color:#2962ff;font-size:14px;font-weight:600');txt(178,99,'BUY','color:#2962ff;font-size:11.5px;opacity:.75');
txt(134,91,'\u22120.14','font-size:10.5px;color:#434651');
// tooltip
rect(10,43,211,41,'background:#2e2e2e;border-radius:3px');
h+=`<svg style="left:19px;top:36px" width="16" height="8"><path d="M0 8L8 0l8 8z" fill="#2e2e2e"/></svg>`;
h+=`<div class="a" style="left:18px;top:45.5px;font-size:12.3px;line-height:19px;color:#e8e8e8">Logged in as MahersahamOfficial<br>Active layout: INtraswing 1D</div>`;
// pane controls
function drop(x,y,w,lab){rect(x,y,w,21,'border:1px solid #e0e3eb;border-radius:4px;box-sizing:border-box;background:#fff');
  ico(x+(lab?11:15),y+10.5,'<path d="M8 10l4 3 4-3" stroke-width="1.5"/>');if(lab)txt(x+28,y+11,lab,'font-size:13px');}
function sync(x,y){rect(x-9,y-9,18,18,'background:#e7e1f8;border-radius:9px');
  ico(x,y,'<path d="M6.5 11a6 6 0 0 1 10-2.5L18 10M17.5 13a6 6 0 0 1-10 2.5L6 14M18 6v4h-4M6 18v-4h4" stroke-width="1.8"/>','#6a2cf5');}
drop(65,115,39,'12');sync(128,126);
drop(65,586,29);sync(120,598);drop(65,679,29);sync(119,690);drop(65,780,29);sync(119,790);
// MYR drop-downs
function myr(y){rect(959,y,68,25,'border:1px solid #eceef2;border-radius:4px;box-sizing:border-box;background:#fff');
  txt(976,y+12,'MYR','font-size:12.5px;color:#1e3a6e');ico(1018,y+12.5,'<path d="M10 11l2 2 2-2" stroke-width="1.5"/>');}
myr(47);myr(583);myr(677);
// price tag
rect(920,204,35,17,'background:#ff5252;border-radius:3px 0 0 3px');txt(938,212.5,'SIME','color:#fff;font-size:12px');
rect(955.5,204,37.5,17,'background:#ff5252;border-radius:0 2px 2px 0');txt(976,212.5,'2.30','color:#fff;font-size:12.5px');
// wave widget
rect(540,100,100,37,'background:#fff;border-radius:7px;box-shadow:0 1px 5px rgba(0,0,0,.18)');
ico(552,118,'<g fill="#c9ccd3" stroke="none"><circle cx="9" cy="7" r="1.3"/><circle cx="15" cy="7" r="1.3"/><circle cx="9" cy="12" r="1.3"/><circle cx="15" cy="12" r="1.3"/><circle cx="9" cy="17" r="1.3"/><circle cx="15" cy="17" r="1.3"/></g>');
const wave='<path d="M1 19l6-6 6 5 8-6" stroke-width="1"/><g fill="#fff" stroke-width="1"><circle cx="1.5" cy="19" r="2"/><circle cx="8" cy="13" r="2"/><circle cx="14" cy="18" r="2"/><circle cx="20.5" cy="12" r="2"/></g>';
ico(583,117,wave);ico(621,117,wave);
txt(579,108,'1','font-size:8.5px;font-weight:700');txt(594,108,'5','font-size:8.5px;font-weight:700');
txt(617,108,'A','font-size:8.5px;font-weight:700');txt(632,108,'C','font-size:8.5px;font-weight:700');
// event markers
function ev(x,y,col,path,l){h+=`<svg style="left:${x-10}px;top:${y-10}px" width="20" height="20" viewBox="0 0 20 20"><path d="${path}" fill="#fff" stroke="${col}" stroke-width="1.6"/></svg>`;
  txt(x,y+.5,l,`color:${col};font-size:11.5px;font-weight:600`);}
ev(311,565,'#089981','M10 1.5l8 4.5v12H2V6z','E');
ev(377,565,'#2962ff','M10 1a9 9 0 1 0 .01 0z','D');
ev(607,565,'#f23645','M2 2h16v12l-8 4.5L2 14z','E');
ev(923,565,'#e040fb','M1.5 1.5h17v17h-17z','E');
// tv logo
rect(66,983,34,18,'background:#fff');
h+=`<svg style="left:68px;top:985px" width="30" height="14" viewBox="0 0 30 14"><path d="M0 0h12v14H6V5H0zM15 0a2.5 2.5 0 1 1-.01 0zM22 0h7l-6 14h-7z" fill="#000"/></svg>`;
// left tools
const lt=[[105,'<circle cx="5" cy="19" r="2"/><circle cx="19" cy="5" r="2"/><path d="M6.5 17.5l11-11"/>'],
[143,'<path d="M2 5h19M2 10h17M2 15h19M5 20h17"/><circle cx="20" cy="10" r="1.8" fill="#fff"/><circle cx="3" cy="15" r="1.8" fill="#fff"/>'],
[181,'<path d="M5 20L9 4l11 15L19 4 5 13l15 6"/><circle cx="9" cy="4" r="1.8" fill="#fff"/><circle cx="19" cy="4" r="1.8" fill="#fff"/><circle cx="5" cy="20" r="1.8" fill="#fff"/><circle cx="20" cy="19" r="1.8" fill="#fff"/>'],
[218,'<path d="M4 4h18M6 19h16"/><circle cx="4" cy="4" r="1.8" fill="#fff"/><circle cx="4" cy="19" r="1.8" fill="#fff"/><path d="M10 9v5h5M3 12h5M16 12h6"/>'],
[258,'<path d="M2 21c3-9 9-9 12-7 1 3-4 7-12 7zM14 14c2-1 1-5 4-6M17 13c2 0 3-3 5-4"/>'],
[295,'<path d="M4 5V3h16v2M12 3v18M9 21h6"/>'],
[333,'<circle cx="12" cy="12" r="10"/><circle cx="8.5" cy="10" r=".8" fill="#131722"/><circle cx="15.5" cy="10" r=".8" fill="#131722"/><path d="M7 15c2.5 3 7.5 3 10 0"/>'],
[383,'<path d="M2 17L18 3l4 4.5L6 21.5zM6 14l2 2M9 11.5l2 2M12 9l2 2M15 6.5l2 2"/>'],
[421,'<circle cx="11" cy="11" r="8"/><path d="M17 17l5 4M7.5 11h7M11 7.5v7"/>'],
[473,'<path d="M4 21v-9a8 8 0 0 1 16 0v9h-5.5v-9a2.5 2.5 0 0 0-5 0v9zM4 17h5M15 17h5"/>'],
[510,'<path d="M2 19l2-5L15 4l4 3L8 17zM12 6l4 3"/><rect x="15" y="16" width="8" height="6" rx="1"/><path d="M17 16v-2a2 2 0 0 1 4 0"/>'],
[549,'<rect x="4" y="11" width="16" height="10" rx="1.5"/><path d="M8 11V7a4 4 0 0 1 8 0"/><circle cx="12" cy="16" r="1.2" fill="#131722"/>'],
[587,'<path d="M1 12c5-8 17-8 22 0-5 8-17 8-22 0z"/><circle cx="12" cy="12" r="4"/>'],
[625,'<path d="M9 15l8-8a3 3 0 0 1 4 4l-10 10a5 5 0 0 1-7-7l9-9"/>'],
[675,'<path d="M3 6h18M9 6V3h6v3M5 6l1.5 16h11L19 6"/>']];
lt.forEach(a=>ico(26,a[0],a[1]));
[357,447,650].forEach(y=>rect(8,y,36,1,'background:#e0e3eb'));
rect(9,1024,34,34,'background:#2e2e2e;border-radius:5px');
ico(26,1041,'<path d="M12 3l2.8 6 6.2.7-4.7 4.2 1.4 6.3L12 17l-5.7 3.2 1.4-6.3L3 9.7 9.2 9z"/>','#fff');
// right tools
const rt=[[65,'<path d="M4 2h16v20l-8-3-8 3zM7 7h10M7 11h10M7 15h10"/>'],
[111,'<circle cx="12" cy="13" r="9"/><path d="M12 8v5H8M4 3L2 5M20 3l2 2"/>'],
[158,'<path d="M12 3l10 6-10 6L2 9zM2 14l10 6 10-6"/>'],
[204,'<path d="M3 3h15v11H8l-4 3v-3H3zM20 8h2v10h-1v3l-4-3H9"/>'],
[772,'<circle cx="12" cy="12" r="11"/><circle cx="12" cy="12" r="6.5"/><circle cx="12" cy="12" r="1.4" fill="#131722"/><path d="M12 12l7-7"/>'],
[817,'<path d="M12 2l6 6-6 6-6-6zM4 22l8-9 8 9zM6 11l-2 3M18 11l2 3"/>'],
[860,'<rect x="2" y="4" width="20" height="18" rx="2"/><path d="M2 9h20"/><rect x="6" y="2" width="3" height="4" fill="#fff"/><rect x="15" y="2" width="3" height="4" fill="#fff"/>'],
[908,'<circle cx="3" cy="20" r="1.6"/><path d="M2 14a8 8 0 0 1 8 7M2 9a13 13 0 0 1 13 12M2 4a18 18 0 0 1 18 17"/>'],
[955,'<path d="M6 17V9a6 6 0 0 1 12 0v8zM3 17h18v3H3zM9 20a3 3 0 0 0 6 0"/>'],
[1055,'<circle cx="12" cy="12" r="11.5"/><path d="M8.5 9a3.5 3.5 0 1 1 5 3.5c-1 .6-1.5 1.2-1.5 2.5"/><circle cx="12" cy="18.5" r=".7" fill="#131722"/>']];
rt.forEach(a=>ico(1058,a[0],a[1]));
rect(1047,1035,26,1,'background:#e0e3eb');
rect(1041,981,34,34,'background:#2e2e2e;border-radius:17px');
[-7,0,7].forEach(dy=>[-7,0,7].forEach(dx=>rect(1058+dx-2.5,998+dy-2.5,5,5,'background:#fff;border-radius:1px')));
rect(1047,887,27,17,'background:#f23645;border-radius:9px');txt(1060.5,895.5,'99+','color:#fff;font-size:11.5px');
rect(1054,933,22,17,'background:#f23645;border-radius:9px');txt(1065,941.5,'59','color:#fff;font-size:11.5px');
// bottom
[['1D',79],['5D',109],['1M',140],['3M',172],['6M',204],['YTD',239],['1Y',272],['5Y',300],['All',328]].forEach(a=>txt(a[1],1061,a[0],'font-size:14px;color:#1e2a44'));
rect(347,1051,1,20,'background:#e0e3eb');
ico(371,1061,'<path d="M4 10V5h16v16H12M4 10h16M8 3v3M16 3v3M3 17h7M7 14l3 3-3 3"/>');
txt(925,1061,'08:34:06 UTC+8','font-size:13.5px;color:#1e2a44');
rect(984,1051,1,20,'background:#e0e3eb');txt(1009,1061,'ADJ','font-size:13.5px;color:#1e3a6e');
ico(993,1027,'<path d="M6 4h12l5 8-5 8H6l-5-8z" transform="translate(2.4 2.4) scale(.8)"/><circle cx="12" cy="12" r="2.5"/>');
ui.innerHTML=h;
</script></body></html>
